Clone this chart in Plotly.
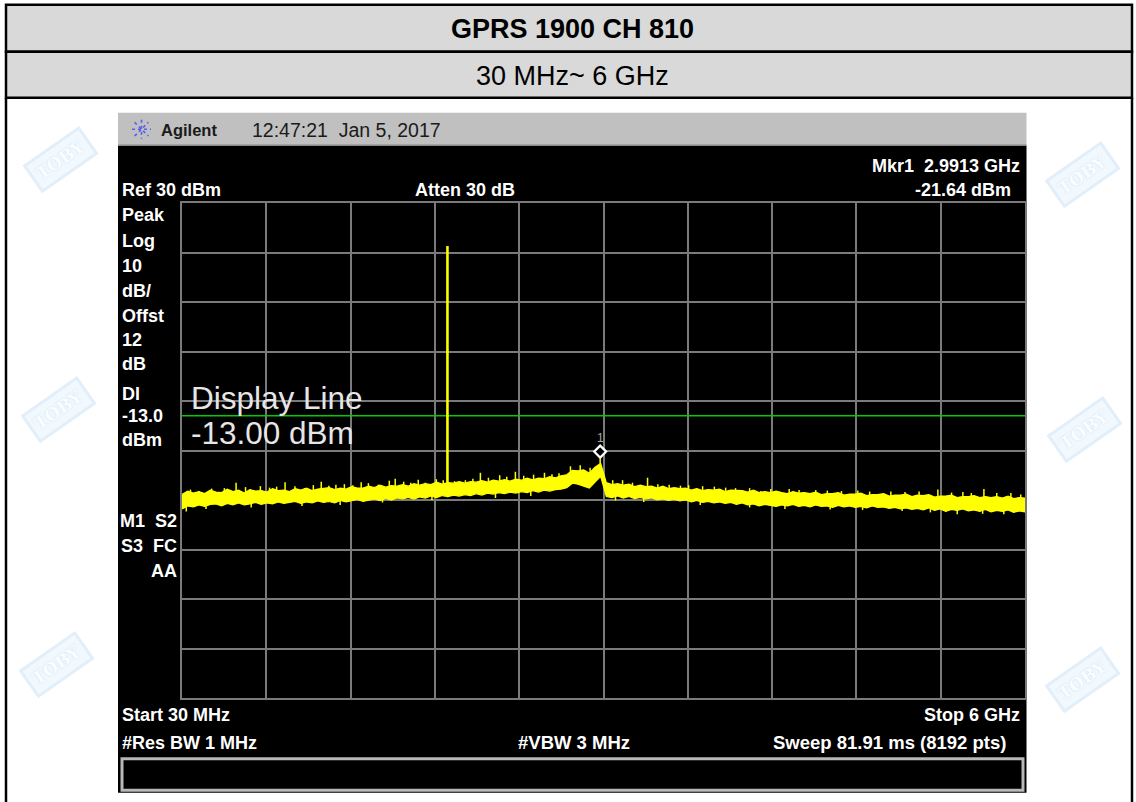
import numpy as np
import plotly.graph_objects as go

# ---- sweep / display settings -------------------------------------------
START_MHZ = 30.0
STOP_MHZ = 6000.0
REF_LEVEL = 30.0        # dBm at top graticule
DB_PER_DIV = 10.0
N_DIV = 10
DISPLAY_LINE = -13.0    # dBm
MARKER_FREQ = 2991.3    # MHz
MARKER_LEVEL = -21.64   # dBm
CARRIER_FREQ = 1909.8   # MHz (PCS1900 channel 810)
CARRIER_LEVEL = 21.3    # dBm

# ---- measured trace: max / min envelope of the noise floor (dBm) ----------
trace_max = [
    -28.9, -28.2, -28.6, -28.3, -28.7, -28.0, -28.4, -28.5, -27.8, -28.3,
    -28.0, -28.6, -27.9, -28.2, -28.1, -28.4, -27.7, -28.1, -28.0, -28.3,
    -27.7, -28.0, -27.6, -28.1, -27.8, -27.7, -27.5, -27.9, -27.6, -27.8,
    -27.3, -27.6, -27.6, -27.2, -27.5, -27.0, -27.4, -27.1, -27.2, -26.9,
    -27.2, -26.7, -27.0, -26.7, -26.9, -26.4, -26.8, -26.5, -26.6, -26.3,
    -26.6, -26.3, -26.4, -26.1, -26.4, -26.0, -26.2, -25.9, -26.2, -25.8,
    -26.0, -25.6, -25.9, -25.6, -25.7, -25.3, -25.5, -25.1, -24.9, -24.0,
    -24.1, -23.9, -24.6, -23.4, -22.6, -26.5, -26.9, -26.7, -27.0, -26.8,
    -27.3, -27.0, -27.3, -27.2, -27.6, -27.2, -27.7, -27.5, -27.7, -27.6,
    -28.0, -27.7, -28.1, -27.9, -28.0, -27.8, -28.3, -28.0, -28.1, -28.1,
    -28.4, -28.0, -28.5, -28.3, -28.5, -28.2, -28.5, -28.7, -28.3, -28.6,
    -28.5, -28.7, -28.4, -28.9, -28.7, -28.7, -28.5, -29.0, -28.8, -28.8,
    -28.6, -29.1, -28.9, -28.9, -28.7, -29.2, -29.0, -29.0, -28.8, -29.3,
    -29.0, -29.1, -28.9, -29.4, -29.2, -29.2, -29.0, -29.5, -29.3, -29.3,
    -29.1, -29.5, -29.3, -29.5, -29.3, -29.6, -29.2, -29.7, -29.5, -29.6,
]
trace_min = [
    -31.8, -31.2, -31.4, -31.0, -31.3, -30.9, -30.8, -31.2, -30.7, -31.0,
    -30.6, -31.0, -30.8, -30.5, -30.9, -30.6, -30.8, -30.4, -30.7, -30.5,
    -30.3, -30.7, -30.4, -30.6, -30.2, -30.5, -30.3, -30.6, -30.1, -30.4,
    -30.2, -29.9, -30.3, -30.0, -29.8, -30.1, -29.7, -30.0, -29.6, -29.8,
    -29.5, -29.8, -29.4, -29.6, -29.2, -29.5, -29.1, -29.3, -29.0, -29.2,
    -28.9, -29.1, -28.7, -29.0, -28.6, -28.8, -28.5, -28.7, -28.4, -28.6,
    -28.3, -28.5, -28.1, -28.4, -28.0, -28.2, -27.9, -27.8, -27.5, -26.6,
    -26.8, -27.2, -27.6, -26.4, -25.2, -29.3, -29.5, -29.2, -29.6, -29.3,
    -29.7, -29.5, -29.8, -29.6, -30.0, -29.8, -30.1, -29.9, -30.2, -30.0,
    -30.4, -30.1, -30.5, -30.3, -30.6, -30.4, -30.7, -30.5, -30.9, -30.6,
    -31.0, -30.8, -31.2, -30.9, -31.1, -31.3, -31.0, -31.2, -30.9, -31.3,
    -31.1, -31.4, -31.0, -31.3, -31.2, -31.5, -31.1, -31.4, -31.2, -31.5,
    -31.3, -31.6, -31.2, -31.5, -31.4, -31.7, -31.5, -31.8, -31.6, -31.9,
    -31.7, -32.0, -31.6, -32.1, -31.8, -32.3, -31.9, -32.1, -31.8, -32.2,
    -32.0, -32.3, -31.9, -32.4, -32.1, -32.3, -32.0, -32.5, -32.2, -32.4,
]
freq = np.linspace(START_MHZ, STOP_MHZ, len(trace_max))

# narrow spurs poking out above the noise floor (MHz, dBm)
spur_freq = [90, 150, 240, 330, 413, 480, 585, 650, 700, 760, 830, 900, 960,
             1016, 1070, 1120, 1180, 1240, 1299, 1350, 1420, 1498, 1540,
             1600, 1650, 1703, 1753, 1831, 1880, 1960, 2037, 2090, 2143,
             2200, 2280, 2330, 2391, 2450, 2520, 2597, 2650, 2700, 2781,
             2850, 2920, 3080, 3150, 3220, 3327, 3400, 3480, 3560, 3618,
             3717, 3800, 3880, 3950, 4050, 4128, 4200, 4330, 4400, 4518,
             4600, 4700, 4816, 4900, 5050, 5150, 5250, 5383, 5480, 5560,
             5620, 5709, 5800, 5900, 5970]
spur_level = [-27.9, -28.2, -27.7, -27.6, -26.5, -27.4, -27.2, -27.5, -27.3,
              -26.4, -27.2, -27.6, -27.0, -26.3, -27.1, -26.9, -26.8, -27.0,
              -26.4, -26.6, -26.9, -26.1, -25.7, -26.3, -26.5, -25.9, -26.5,
              -25.8, -26.0, -26.2, -26.0, -25.7, -24.5, -25.5, -25.0, -25.3,
              -24.3, -25.1, -24.9, -24.5, -24.8, -24.6, -23.2, -23.0, -23.5,
              -26.0, -26.0, -26.5, -25.5, -26.8, -26.9, -27.1, -27.0, -27.2,
              -27.3, -27.5, -27.6, -27.6, -28.2, -27.8, -27.8, -28.0, -28.0,
              -28.1, -28.2, -28.1, -28.3, -28.3, -28.4, -28.3, -27.9, -28.5,
              -28.4, -28.6, -27.8, -28.6, -28.6, -28.9]
# narrow dips below the noise floor (MHz, dBm)
dip_freq = [60, 200, 520, 880, 1150, 1450, 1800, 2250, 2500, 3100, 3300,
            3700, 4050, 4300, 4620, 4850, 5130, 5330, 5520, 5700, 5850]
dip_level = [-32.3, -31.8, -31.5, -31.2, -31.0, -30.5, -30.0, -29.6, -29.2,
             -30.1, -30.4, -31.0, -31.5, -31.8, -31.9, -32.0, -32.2, -32.5,
             -32.9, -32.8, -32.9]

# ---- figure geometry (pixels) ----------------------------------------------
W, H = 1136, 802
GX0, GX1, GY0, GY1 = 182.0, 1025.0, 203.3, 698.3


def px(x):
    return (x - GX0) / (GX1 - GX0)


def py(y):
    return (GY1 - y) / (GY1 - GY0)


YELLOW = "#ffff00"
FONT = "Liberation Sans, Arial, Helvetica, sans-serif"
NB = "\u00a0"

fig = go.Figure()

# noise floor band
fig.add_trace(go.Scatter(x=freq, y=trace_min, mode="lines",
                         line=dict(color=YELLOW, width=1.2),
                         hoverinfo="skip", showlegend=False))
fig.add_trace(go.Scatter(x=freq, y=trace_max, mode="lines", fill="tonexty",
                         fillcolor=YELLOW, line=dict(color=YELLOW, width=1.2),
                         hoverinfo="skip", showlegend=False))

# spurs and dips as thin vertical sticks attached to the band
sx, sy = [], []
for f, lv in zip(spur_freq, spur_level):
    base = float(np.interp(f, freq, trace_min)) + 0.8
    sx += [f, f, None]
    sy += [base, lv, None]
for f, lv in zip(dip_freq, dip_level):
    base = float(np.interp(f, freq, trace_max)) - 0.8
    sx += [f, f, None]
    sy += [base, lv, None]
base_m = float(np.interp(MARKER_FREQ, freq, trace_min)) + 0.8
sx += [MARKER_FREQ, MARKER_FREQ, None]
sy += [base_m, MARKER_LEVEL, None]
fig.add_trace(go.Scatter(x=sx, y=sy, mode="lines",
                         line=dict(color=YELLOW, width=1.5),
                         hoverinfo="skip", showlegend=False))

# carrier
base_c = float(np.interp(CARRIER_FREQ, freq, trace_min))
fig.add_trace(go.Scatter(x=[CARRIER_FREQ, CARRIER_FREQ], y=[base_c, CARRIER_LEVEL],
                         mode="lines", line=dict(color=YELLOW, width=2.6),
                         hoverinfo="skip", showlegend=False))

shapes = []
# report table header rows
shapes.append(dict(type="rect", xref="paper", yref="paper", layer="below",
                   x0=px(6), x1=px(1132), y0=py(5), y1=py(52),
                   fillcolor="#d9d9d9", line=dict(color="black", width=2.5)))
shapes.append(dict(type="rect", xref="paper", yref="paper", layer="below",
                   x0=px(6), x1=px(1132), y0=py(52), y1=py(98),
                   fillcolor="#d9d9d9", line=dict(color="black", width=2.5)))
for xe in (6, 1132):
    shapes.append(dict(type="line", xref="paper", yref="paper", layer="below",
                       x0=px(xe), x1=px(xe), y0=py(98), y1=py(810),
                       line=dict(color="black", width=2.5)))
# analyzer title bar and screen
shapes.append(dict(type="rect", xref="paper", yref="paper", layer="below",
                   x0=px(118), x1=px(1026.5), y0=py(113), y1=py(146),
                   fillcolor="#c0c0c0", line=dict(width=0)))
shapes.append(dict(type="rect", xref="paper", yref="paper", layer="below",
                   x0=px(118), x1=px(1026.5), y0=py(146), y1=py(793),
                   fillcolor="black", line=dict(width=0)))
shapes.append(dict(type="line", xref="paper", yref="paper", layer="below",
                   x0=px(118), x1=px(1026.5), y0=py(145.5), y1=py(145.5),
                   line=dict(color="#8a8a8a", width=1.5)))
# message box
shapes.append(dict(type="rect", xref="paper", yref="paper", layer="below",
                   x0=px(122), x1=px(1023), y0=py(759), y1=py(790.5),
                   fillcolor="black", line=dict(color="#b8b8b8", width=3)))
# logo burst
lcx, lcy, r = 141.5, 129.5, 9.5
for dx, dy in ((1, 0), (0, 1), (0.72, 0.72), (0.72, -0.72)):
    shapes.append(dict(type="line", xref="paper", yref="paper",
                       x0=px(lcx - dx * r), x1=px(lcx + dx * r),
                       y0=py(lcy - dy * r), y1=py(lcy + dy * r),
                       line=dict(color="#5b5bf0", width=1.6, dash="dot")))
# display line
shapes.append(dict(type="line", xref="x", yref="y", layer="between",
                   x0=START_MHZ, x1=STOP_MHZ, y0=DISPLAY_LINE, y1=DISPLAY_LINE,
                   line=dict(color="#00cc00", width=1.5)))
# marker 1 diamond (tip on the trace point)
shapes.append(dict(type="path", xref="x", yref="y",
                   xsizemode="pixel", ysizemode="pixel",
                   xanchor=MARKER_FREQ, yanchor=MARKER_LEVEL,
                   path="M 0 1 L 6 7 L 0 13 L -6 7 Z",
                   fillcolor="black", line=dict(color="white", width=2.2)))

ann = []


def label(text, x, y, anchor="left", size=18, color="white", weight="bold",
          family=FONT):
    ann.append(dict(text=text, xref="paper", yref="paper", x=px(x), y=py(y),
                    xanchor=anchor, yanchor="middle", showarrow=False,
                    font=dict(family=family, size=size, color=color,
                              weight=weight)))


# watermark stamps in the side margins
for (wx, wy) in [(60, 160), (58, 410), (56, 665),
                 (1082, 175), (1084, 430), (1082, 680)]:
    ann.append(dict(text="TOBY", xref="paper", yref="paper", x=px(wx), y=py(wy),
                    xanchor="center", yanchor="middle",
                    showarrow=False, textangle=-35,
                    font=dict(family="DejaVu Serif", size=17, color="#fbfdff",
                              weight="bold", shadow="0px 0px 2px #c3e1f6"),
                    bgcolor="#f1f8fe", bordercolor="#e2effa", borderwidth=3,
                    borderpad=4))

# report header
label("GPRS 1900 CH 810", 572, 29, anchor="center", size=27, color="black")
label("30 MHz~ 6 GHz", 572, 76, anchor="center", size=27, color="black",
      weight="normal")

# title bar
label("Agilent", 159, 130, size=16.5, color="#1a1a1a")
label(f"12:47:21{NB}{NB}Jan 5, 2017", 250, 130, size=19.5, color="#1a1a1a",
      weight="normal")

# screen annotations
label("Ref 30 dBm", 120, 190)
label("Atten 30 dB", 413, 190)
label(f"Mkr1{NB}{NB}{MARKER_FREQ / 1000:.4f} GHz", 1022, 166, anchor="right")
label(f"{MARKER_LEVEL:.2f} dBm", 1013, 190, anchor="right")

left_col = [("Peak", 215), ("Log", 241), ("10", 266), ("dB/", 291),
            ("Offst", 316), ("12", 340), ("dB", 364), ("Dl", 394),
            (f"{DISPLAY_LINE:.1f}", 416), ("dBm", 440)]
for t, yy in left_col:
    label(t, 120, yy)
label(f"M1{NB}{NB}S2", 179, 521, anchor="right")
label(f"S3{NB}{NB}FC", 179, 546, anchor="right")
label("AA", 179, 571, anchor="right")

label("Display Line", 189, 398, size=31.5, color="#e6e6e6", weight="normal")
label(f"{DISPLAY_LINE:.2f} dBm", 189, 433, size=31.5, color="#e6e6e6",
      weight="normal")

label("Start 30 MHz", 120, 715)
label("Stop 6 GHz", 1022, 715, anchor="right")
label("#Res BW 1 MHz", 120, 743)
label("#VBW 3 MHz", 516, 743, size=18.5)
label("Sweep 81.91 ms (8192 pts)", 1008, 743, anchor="right", size=18.5)

# marker number
ann.append(dict(text="1", xref="x", yref="y", x=MARKER_FREQ, y=MARKER_LEVEL,
                yshift=21, showarrow=False,
                font=dict(family=FONT, size=12, color="#a8a8a8")))

grid = dict(showgrid=True, gridcolor="#7a7a7a", gridwidth=2,
            showline=True, mirror=True, linecolor="#7a7a7a", linewidth=2,
            zeroline=False, showticklabels=False, ticks="", fixedrange=True)

fig.update_layout(
    width=W, height=H, autosize=False,
    margin=dict(l=GX0, r=W - GX1, t=GY0, b=H - GY1, pad=0),
    paper_bgcolor="white", plot_bgcolor="black",
    xaxis=dict(range=[START_MHZ, STOP_MHZ], tick0=START_MHZ,
               dtick=(STOP_MHZ - START_MHZ) / N_DIV, **grid),
    yaxis=dict(range=[REF_LEVEL - N_DIV * DB_PER_DIV, REF_LEVEL],
               tick0=REF_LEVEL, dtick=DB_PER_DIV, **grid),
    shapes=shapes, annotations=ann, showlegend=False,
)

fig.write_html("out.html", config=dict(displayModeBar=False))
